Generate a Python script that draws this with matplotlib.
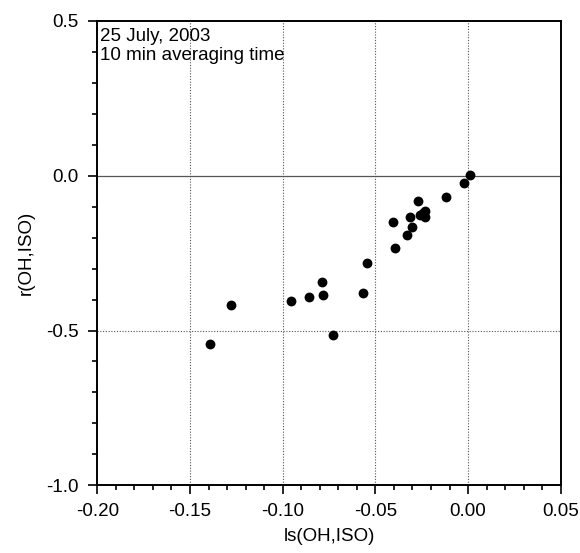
import matplotlib
matplotlib.use('Agg')
import matplotlib.pyplot as plt
from matplotlib.ticker import MultipleLocator

plt.rcParams['font.family'] = ['Liberation Sans', 'DejaVu Sans']

# datos
ls_vals = [0.001, -0.0023, -0.012, -0.0268, -0.023, -0.026, -0.023, -0.0245,
           -0.0315, -0.0405, -0.0305, -0.0332, -0.0396, -0.0545, -0.0567,
           -0.079, -0.0785, -0.0859, -0.0954, -0.0727, -0.1277, -0.139]
r_vals = [0.002, -0.022, -0.069, -0.082, -0.113, -0.127, -0.132, -0.121,
          -0.133, -0.148, -0.165, -0.190, -0.232, -0.281, -0.380,
          -0.342, -0.386, -0.392, -0.406, -0.514, -0.416, -0.545]

x_ticks = [-0.20, -0.15, -0.10, -0.05, 0.00, 0.05]
y_ticks = [-1.0, -0.5, 0.0, 0.5]

fs = 13.5

fig = plt.figure(figsize=(5.8, 5.53), dpi=100)
ax = fig.add_axes([0.1678, 0.1224, 0.799, 0.8397])

# lineas de referencia
for xv in [-0.15, -0.10, -0.05, 0.00]:
    ax.axvline(xv, color='#555555', lw=0.8, ls=(0, (1, 1.5)), zorder=1)
ax.axhline(-0.5, color='#555555', lw=0.8, ls=(0, (1, 1.5)), zorder=1)
ax.axhline(0.0, color='#555555', lw=0.9, zorder=1)

ax.scatter(ls_vals, r_vals, s=50, color='black', zorder=3, linewidths=0)

ax.set_xlim(-0.20, 0.05)
ax.set_ylim(-1.0, 0.5)
ax.set_xticks(x_ticks)
ax.set_xticklabels(['%.2f' % v for v in x_ticks])
ax.set_yticks(y_ticks)
ax.set_yticklabels(['%.1f' % v for v in y_ticks])
ax.xaxis.set_minor_locator(MultipleLocator(0.01))
ax.yaxis.set_minor_locator(MultipleLocator(0.1))
ax.tick_params(which='major', direction='out', length=6.5, width=1.2, labelsize=fs,
               top=False, right=False)
ax.tick_params(axis='y', which='major', pad=7)
ax.tick_params(axis='x', which='major', pad=6)
ax.tick_params(which='minor', direction='out', length=3.8, width=1.2,
               top=False, right=False)
for sp in ax.spines.values():
    sp.set_linewidth(1.4)

ax.set_xlabel('ls(OH,ISO)', fontsize=fs, va='center')
ax.set_ylabel('r(OH,ISO)', fontsize=fs, va='center')
ax.xaxis.set_label_coords(0.5, -0.111)
ax.yaxis.set_label_coords(-0.154, 0.5)

ax.text(0.006, 0.985, '25 July, 2003\n10 min averaging time', transform=ax.transAxes,
        va='top', ha='left', fontsize=fs, linespacing=1.15)

fig.savefig('out.png', dpi=100)
